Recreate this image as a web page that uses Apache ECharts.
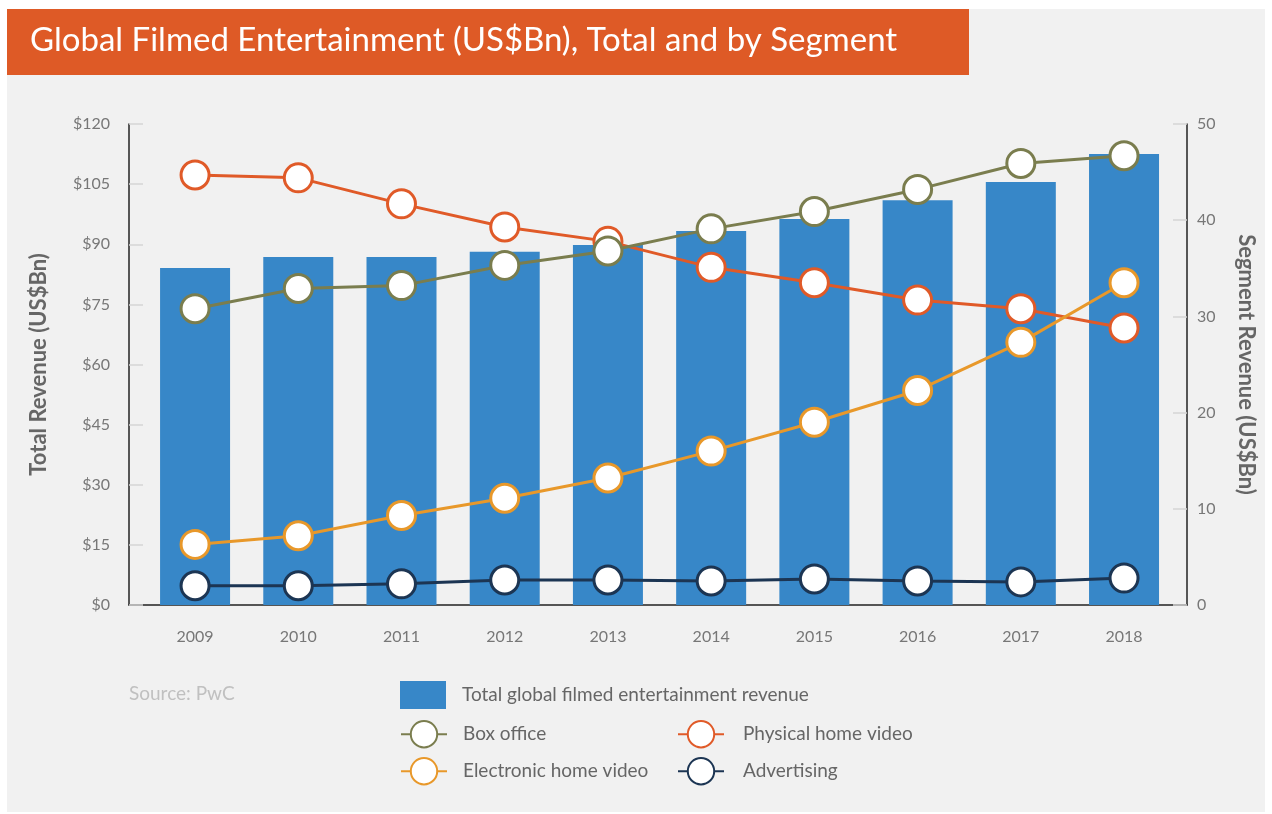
<!DOCTYPE html>
<html>
<head>
<meta charset="utf-8">
<script src="https://cdn.jsdelivr.net/npm/echarts@6/dist/echarts.min.js"></script>
<style>
html,body{margin:0;padding:0;background:#fff;}
#c{width:1272px;height:814px;}
</style>
</head>
<body>
<div id="c"></div>
<script>
const years = ['2009','2010','2011','2012','2013','2014','2015','2016','2017','2018'];
const totalRevenue = [84.1, 86.8, 86.8, 88.1, 89.8, 93.3, 96.3, 101.0, 105.5, 112.5];
const boxOffice = [30.8, 32.9, 33.2, 35.3, 36.8, 39.1, 40.9, 43.2, 45.9, 46.7];
const physicalHomeVideo = [44.7, 44.4, 41.7, 39.3, 37.8, 35.1, 33.5, 31.7, 30.8, 28.8];
const electronicHomeVideo = [6.3, 7.2, 9.3, 11.1, 13.2, 16.0, 19.0, 22.3, 27.3, 33.5];
const advertising = [2.0, 2.0, 2.2, 2.6, 2.6, 2.5, 2.7, 2.5, 2.4, 2.8];

const FONT = 'Lato, "Open Sans", sans-serif';
const pairs = arr => arr.map((v, i) => [i, v]);

const lineSeries = (name, data, color) => ({
  name, type: 'line', xAxisIndex: 0, yAxisIndex: 1,
  data: pairs(data),
  symbol: 'circle', symbolSize: 28,
  lineStyle: { color, width: 3 },
  itemStyle: { color: '#fff', borderColor: color, borderWidth: 3 },
  emphasis: { disabled: true },
  z: 3
});

const legendBase = (name, left, top, pad, extra) => Object.assign({
  data: [name], left, top, itemWidth: 46, itemHeight: 33,
  padding: 0, selectedMode: false,
  textStyle: { fontSize: 19, color: '#666', fontFamily: FONT, padding: [0, 0, 0, pad] }
}, extra || {});

const axisLineStyle = { show: true, onZero: false, lineStyle: { color: '#222', width: 1.5 } };
const tickStyle = { show: true, inside: true, length: 14, lineStyle: { color: '#d5d5d5', width: 1.5 } };

const chart = echarts.init(document.getElementById('c'));
chart.setOption({
  backgroundColor: '#fff',
  animation: false,
  graphic: [
    { type: 'rect', left: 7, top: 9, shape: { width: 1258, height: 803 }, style: { fill: '#f1f1f1' }, z: -10 },
    { type: 'rect', left: 7, top: 9, shape: { width: 962, height: 66 }, style: { fill: '#de5a26' }, z: -5 },
    { type: 'text', left: 30, top: 24, style: { text: 'Global Filmed Entertainment (US$Bn), Total and by Segment', fill: '#fff', fontSize: 33, fontFamily: FONT } },
    { type: 'text', left: 129, top: 684, style: { text: 'Source: PwC', fill: '#c0c0c0', fontSize: 19, fontFamily: FONT } }
  ],
  grid: { left: 129, right: 85, top: 124, bottom: 209 },
  xAxis: {
    type: 'value', min: -0.64, max: 9.61,
    axisLine: axisLineStyle,
    axisTick: { show: false },
    splitLine: { show: false },
    axisLabel: {
      customValues: years.map((y, i) => i),
      formatter: v => years[Math.round(v)] || '',
      color: '#777', fontSize: 16, fontFamily: FONT, margin: 24
    }
  },
  yAxis: [
    {
      type: 'value', min: 0, max: 120, interval: 15, position: 'left',
      name: 'Total Revenue (US$Bn)', nameLocation: 'middle', nameGap: 79,
      nameTextStyle: { fontSize: 22, fontWeight: 'bold', color: '#666', fontFamily: FONT },
      axisLine: axisLineStyle,
      axisTick: tickStyle,
      splitLine: { show: false },
      axisLabel: { formatter: v => '$' + v, color: '#777', fontSize: 16, fontFamily: FONT, margin: 19 }
    },
    {
      type: 'value', min: 0, max: 50, interval: 10, position: 'right',
      name: 'Segment Revenue (US$Bn)', nameLocation: 'middle', nameGap: 48, nameRotate: -90,
      nameTextStyle: { fontSize: 22, fontWeight: 'bold', color: '#666', fontFamily: FONT },
      axisLine: axisLineStyle,
      axisTick: tickStyle,
      splitLine: { show: false },
      axisLabel: { color: '#777', fontSize: 16, fontFamily: FONT, margin: 10 }
    }
  ],
  legend: [
    legendBase('Total global filmed entertainment revenue', 400, 681, 11, { itemHeight: 28, icon: 'rect' }),
    legendBase('Box office', 400, 720, 11),
    legendBase('Physical home video', 677, 720, 14),
    legendBase('Electronic home video', 400, 757, 11),
    legendBase('Advertising', 677, 757, 14)
  ],
  series: [
    {
      name: 'Total global filmed entertainment revenue', type: 'bar',
      xAxisIndex: 0, yAxisIndex: 0, data: pairs(totalRevenue),
      barWidth: 70, itemStyle: { color: '#3787c8' }, emphasis: { disabled: true }, z: 2
    },
    lineSeries('Physical home video', physicalHomeVideo, '#e05a28'),
    lineSeries('Electronic home video', electronicHomeVideo, '#e8982a'),
    lineSeries('Advertising', advertising, '#1c3553'),
    lineSeries('Box office', boxOffice, '#7a7d4e')
  ]
});
</script>
</body>
</html>
